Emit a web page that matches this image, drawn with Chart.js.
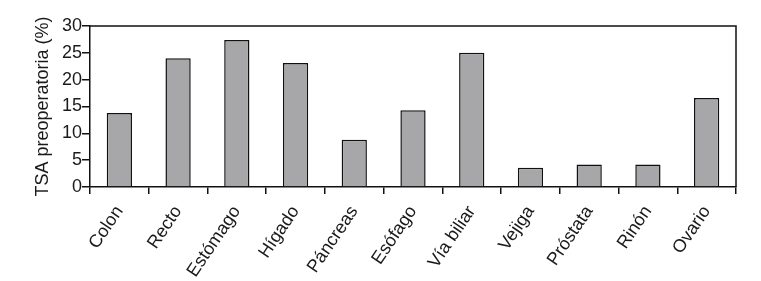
<!DOCTYPE html>
<html>
<head>
<meta charset="utf-8">
<script src="https://cdn.jsdelivr.net/npm/chart.js@4"></script>
<style>
html,body{margin:0;padding:0;background:#fff;}
#wrap{width:761px;height:281px;}
</style>
</head>
<body>
<div id="wrap"><canvas id="c" width="761" height="281"></canvas></div>
<script>
const categories = ["Colon","Recto","Estómago","Hígado","Páncreas","Esófago","Vía biliar","Vejiga","Próstata","Rinón","Ovario"];
const tsaValues = [13.8, 24.0, 27.4, 23.1, 8.8, 14.3, 25.0, 3.6, 4.2, 4.2, 16.6];
const yTicks = [0, 5, 10, 15, 20, 25, 30];

const frame = {
  id: 'frame',
  afterDraw(chart) {
    const {ctx, chartArea: a} = chart;
    ctx.save();
    ctx.strokeStyle = '#111';
    ctx.lineWidth = 1.5;
    ctx.beginPath();
    ctx.moveTo(a.left, a.top);
    ctx.lineTo(a.right, a.top);
    ctx.lineTo(a.right, a.bottom);
    ctx.stroke();
    ctx.restore();
  }
};

new Chart(document.getElementById('c'), {
  type: 'bar',
  data: {
    labels: categories,
    datasets: [{
      data: tsaValues,
      backgroundColor: '#a7a7a9',
      borderColor: '#111',
      borderWidth: 1.5,
      barPercentage: 0.43,
      categoryPercentage: 1.0
    }]
  },
  options: {
    responsive: false,
    animation: false,
    devicePixelRatio: 1,
    layout: { padding: { top: 26, right: 25, left: 0, bottom: 0 } },
    plugins: { legend: { display: false }, tooltip: { enabled: false } },
    scales: {
      x: {
        offset: true,
        grid: { offset: true, drawOnChartArea: false, color: '#111', lineWidth: 1.5, tickLength: 7 },
        border: { color: '#111', width: 1.5 },
        ticks: {
          color: '#1a1a1a', minRotation: 56, maxRotation: 56, padding: 8,
          font: { family: 'Liberation Sans, Arial, sans-serif', size: 18 }
        },
        afterFit(s) { s.height = 94; }
      },
      y: {
        min: 0, max: 30,
        afterBuildTicks(s) { s.ticks = yTicks.map(v => ({ value: v })); },
        grid: { drawOnChartArea: false, color: '#111', lineWidth: 1.5, tickLength: 8 },
        border: { color: '#111', width: 1.5 },
        ticks: {
          color: '#1a1a1a', padding: 0,
          font: { family: 'Liberation Sans, Arial, sans-serif', size: 18 }
        },
        title: {
          display: true, text: 'TSA preoperatoria (%)', color: '#1a1a1a',
          padding: { top: 32, bottom: 0 },
          font: { family: 'Liberation Sans, Arial, sans-serif', size: 18 }
        },
        afterFit(s) { s.width = 90; }
      }
    }
  },
  plugins: [frame]
});
</script>
</body>
</html>
